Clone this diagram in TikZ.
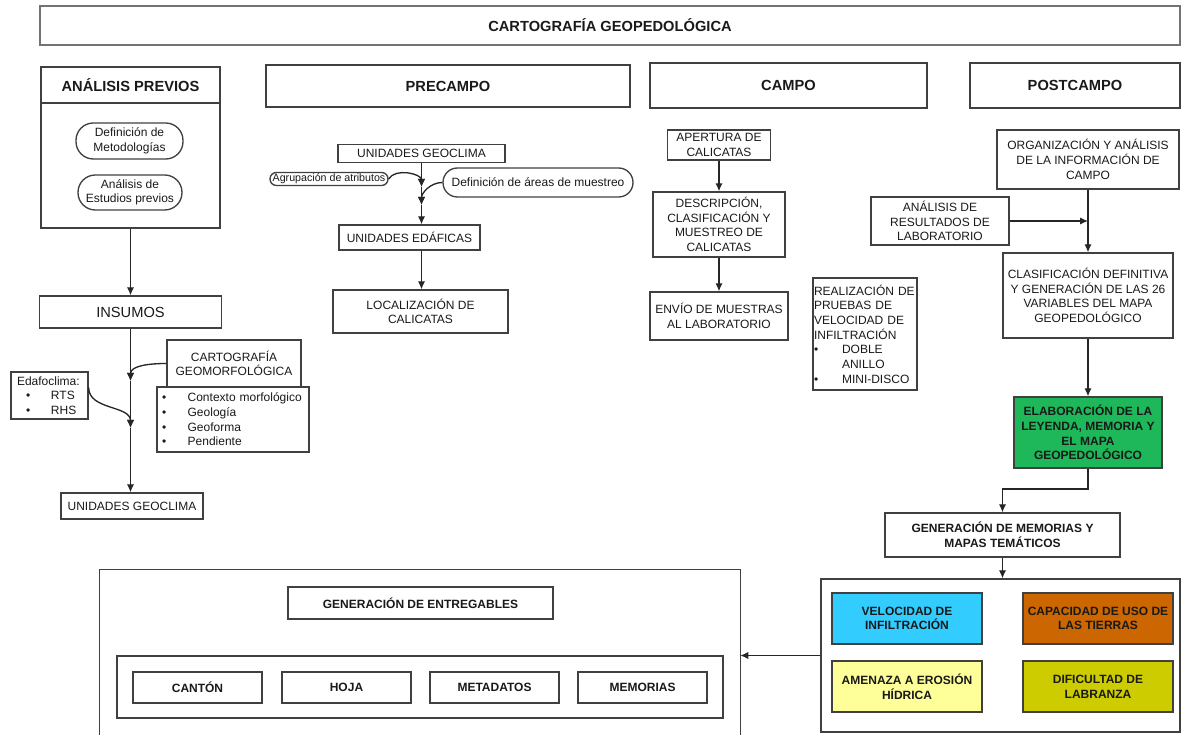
\documentclass[tikz,border=0pt]{standalone}
\usepackage{fontspec}
\setmainfont{Liberation Sans}
\usepackage{tikz}
\usetikzlibrary{arrows.meta}
\definecolor{verde}{HTML}{1EB75A}
\definecolor{celeste}{HTML}{33CCFF}
\definecolor{naranja}{HTML}{CC6600}
\definecolor{amarillo}{HTML}{FFFF99}
\definecolor{oliva}{HTML}{CCCC00}
\newcommand{\vineta}[1]{\makebox[#1][l]{\textbullet}}

\begin{document}
\begin{tikzpicture}[x=0.75pt,y=0.75pt,>={Latex[length=6pt,width=5.5pt]},
	caja/.style={draw=black!75,line width=1pt,align=center,inner sep=1pt,text=black!90,font=\fontsize{9}{11}\selectfont},
	titulo/.style={caja,font=\fontsize{11}{13}\selectfont\bfseries},
	negrita/.style={caja,font=\fontsize{9}{11}\selectfont\bfseries},
	conector/.style={->,line width=1pt,black!85}]
			  \useasboundingbox (0,0) rectangle (1182,735);
			  \node[titulo,draw=black!55,line width=1.4pt,minimum width=855pt,minimum height=29.25pt] (cartografia) at (610,709.5) {CARTOGRAFÍA GEOPEDOLÓGICA};

			  \node[titulo,minimum width=134.25pt,minimum height=27pt] (previos) at (130.5,650) {ANÁLISIS PREVIOS};
			  \node[caja,minimum width=134.25pt,minimum height=93.75pt] (previosbody) at (130.5,569.5) {};
			  \node[caja,rounded corners=13pt,minimum width=80.25pt,minimum height=27pt] (metodologias) at (129.5,594) {Definición de\\Metodologías};
			  \node[caja,rounded corners=13pt,minimum width=78pt,minimum height=26.25pt] (estudios) at (130,542.5) {Análisis de\\Estudios previos};
			  \node[caja,font=\fontsize{11}{13}\selectfont,minimum width=136.5pt,minimum height=24pt] (insumos) at (130.5,423) {INSUMOS};
			  \node[caja,minimum width=100.5pt,minimum height=35.25pt] (cartogeo) at (234,371.5) {CARTOGRAFÍA\\GEOMORFOLÓGICA};
			  \node[caja,align=left,inner xsep=3.75pt,text width=106.5pt,minimum height=48.75pt] (cartolista) at (233,315.5)
			       {\vineta{19.25pt}Contexto morfológico\\\vineta{19.25pt}Geología\\\vineta{19.25pt}Geoforma\\\vineta{19.25pt}Pendiente};
			  \node[caja,align=left,inner xsep=4.5pt,text width=48.75pt,minimum height=35.25pt] (edafo) at (49.5,339.5)
			       {Edafoclima:\\\hspace*{6.75pt}\vineta{18.75pt}RTS\\\hspace*{6.75pt}\vineta{18.75pt}RHS};
			  \node[caja,minimum width=106.5pt,minimum height=19.5pt] (geoclimaA) at (132,229) {UNIDADES GEOCLIMA};
			  \coordinate (j1) at (130.5,354);
			  \coordinate (j2) at (130.5,307);

			  \node[titulo,minimum width=273pt,minimum height=31.5pt] (precampo) at (448,649) {PRECAMPO};
			  \node[caja,inner sep=0.5pt,minimum width=125.25pt,minimum height=13.5pt] (geoclimaB) at (421.5,581.5) {UNIDADES GEOCLIMA};
			  \node[caja,font=\fontsize{8}{9}\selectfont,inner sep=0.5pt,rounded corners=4.8pt,minimum width=88.5pt,minimum height=9.75pt] (agrupa) at (329,556) {Agrupación de atributos};
			  \node[caja,rounded corners=10.8pt,minimum width=142.5pt,minimum height=21.75pt] (areas) at (538,552.5) {Definición de áreas de muestreo};
			  \node[caja,minimum width=105.75pt,minimum height=18.75pt] (edaficas) at (409.5,497.5) {UNIDADES EDÁFICAS};
			  \node[caja,minimum width=131.25pt,minimum height=32.25pt] (localiza) at (420.5,423.5) {LOCALIZACIÓN DE\\CALICATAS};
			  \coordinate (k1) at (421.5,548);
			  \coordinate (k2) at (421.5,530);

			  \node[titulo,minimum width=207.75pt,minimum height=33.75pt] (campo) at (788.5,649.5) {CAMPO};
			  \node[caja,minimum width=77.25pt,minimum height=22.5pt] (apertura) at (719,590) {APERTURA DE\\CALICATAS};
			  \node[caja,minimum width=99pt,minimum height=48.75pt] (descripcion) at (719,510.5) {DESCRIPCIÓN,\\CLASIFICACIÓN Y\\MUESTREO DE\\CALICATAS};
			  \node[caja,minimum width=103.5pt,minimum height=36pt] (envio) at (719,419) {ENVÍO DE MUESTRAS\\AL LABORATORIO};
			  \node[caja,align=left,inner xsep=0.75pt,text width=76.5pt,minimum height=84pt] (infiltra) at (865,401)
			       {\mbox{REALIZACIÓN DE}\\PRUEBAS DE\\VELOCIDAD DE\\INFILTRACIÓN\\\vineta{21pt}DOBLE\\\hspace*{21pt}ANILLO\\\vineta{21pt}MINI-DISCO};

			  \node[titulo,minimum width=157.5pt,minimum height=33.75pt] (postcampo) at (1075,649.5) {POSTCAMPO};
			  \node[caja,minimum width=136.5pt,minimum height=44.25pt] (organiza) at (1088,575.5) {ORGANIZACIÓN Y ANÁLISIS\\DE LA INFORMACIÓN DE\\CAMPO};
			  \node[caja,minimum width=103.5pt,minimum height=36pt] (laboratorio) at (940,514) {ANÁLISIS DE\\RESULTADOS DE\\LABORATORIO};
			  \node[caja,minimum width=127.5pt,minimum height=63.75pt] (clasifica) at (1088,439.5) {CLASIFICACIÓN DEFINITIVA\\Y GENERACIÓN DE LAS 26\\VARIABLES DEL MAPA\\GEOPEDOLÓGICO};
			  \node[negrita,fill=verde,minimum width=111pt,minimum height=53.25pt] (elabora) at (1088,302.5) {ELABORACIÓN DE LA\\LEYENDA, MEMORIA Y\\EL MAPA\\GEOPEDOLÓGICO};
			  \node[negrita,minimum width=176.25pt,minimum height=33pt] (memorias) at (1002.5,200) {GENERACIÓN DE MEMORIAS Y\\MAPAS TEMÁTICOS};
			  \coordinate (m1) at (1088,514);
			  \coordinate (b1) at (1002.5,246);

			  \node[caja,minimum width=269.25pt,minimum height=114.75pt] (tematicos) at (1000.5,79.5) {};
			  \node[negrita,fill=celeste,minimum width=112.5pt,minimum height=38.25pt] (velocidad) at (907,116.5) {VELOCIDAD DE\\INFILTRACIÓN};
			  \node[negrita,fill=naranja,minimum width=112.5pt,minimum height=38.25pt] (capacidad) at (1098,116.5) {CAPACIDAD DE USO DE\\LAS TIERRAS};
			  \node[negrita,fill=amarillo,minimum width=112.5pt,minimum height=38.25pt] (amenaza) at (907,48.5) {AMENAZA A EROSIÓN\\HÍDRICA};
			  \node[negrita,fill=oliva,minimum width=112.5pt,minimum height=38.25pt] (dificultad) at (1098,48.5) {DIFICULTAD DE\\LABRANZA};

			  \node[minimum width=480pt,minimum height=123.75pt] (entrega) at (420,82.5) {};
			  \node[negrita,minimum width=198.75pt,minimum height=24pt] (entregables) at (420.5,132) {GENERACIÓN DE ENTREGABLES};
			  \node[caja,minimum width=454.5pt,minimum height=46.5pt] (productos) at (420,48) {};
			  \node[negrita,minimum width=96.75pt,minimum height=23.25pt] (canton) at (197.5,47.5) {CANTÓN};
			  \node[negrita,minimum width=96.75pt,minimum height=23.25pt] (hoja) at (346.5,47.5) {HOJA};
			  \node[negrita,minimum width=96.75pt,minimum height=23.25pt] (metadatos) at (494.5,47.5) {METADATOS};
			  \node[negrita,minimum width=96.75pt,minimum height=23.25pt] (memoriasB) at (642.5,47.5) {MEMORIAS};
			  \draw[black!75,line width=1pt] (entrega.south west) -- (entrega.north west) -- (entrega.north east) -- (entrega.south east);

			  \path[conector] (previosbody) edge (insumos)
			        (apertura) edge (descripcion)
			        (descripcion) edge (envio)
			        (organiza) edge (clasifica)
			        (clasifica) edge (elabora);
			  \draw[conector] (insumos.south -| j1) -- (j1);
			  \draw[conector] (j1) -- (j2);
			  \draw[conector] (j2) -- (geoclimaA.north -| j2);
			  \draw[conector] (cartogeo.west) to[out=180,in=90] (j1);
			  \draw[conector] ([yshift=6pt]edafo.east) to[out=-90,in=90] (j2);
			  \draw[conector] (geoclimaB.south -| k1) -- (k1);
			  \draw[conector] (k1) -- (k2);
			  \draw[conector] (k2) -- (edaficas.north -| k2);
			  \draw[conector] (edaficas.south -| k2) -- (localiza.north -| k2);
			  \draw[conector] (agrupa.east) to[out=60,in=90] (k1);
			  \draw[conector] (areas.west) to[out=180,in=90] (k2);
			  \draw[conector] (laboratorio.east) -- (m1);
			  \draw[conector] (elabora.south) |- (b1) -- (memorias.north);
			  \draw[conector] (memorias.south) -- (memorias.south |- tematicos.north);
			  \draw[conector] (tematicos.west) -- (tematicos.west -| entrega.east);
\end{tikzpicture}
\end{document}
